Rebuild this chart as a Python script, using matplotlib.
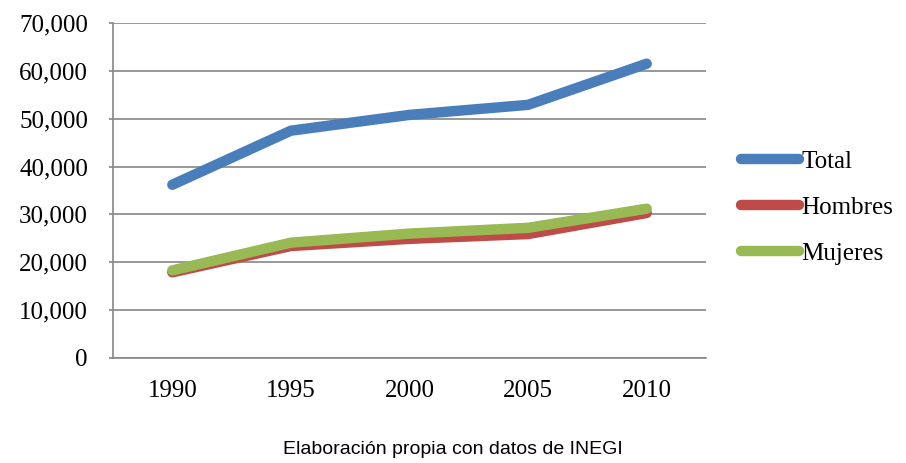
import matplotlib
matplotlib.use("Agg")
import matplotlib.pyplot as plt
from matplotlib.ticker import FuncFormatter

years = ["1990", "1995", "2000", "2005", "2010"]
total = [36200, 47500, 50800, 52900, 61500]
hombres = [17900, 23400, 24900, 25900, 30300]
mujeres = [18300, 24100, 26000, 27200, 31200]
series_names = ["Total", "Hombres", "Mujeres"]
colors = ["#4a7ebb", "#be4b48", "#98b954"]
yticks = [0, 10000, 20000, 30000, 40000, 50000, 60000, 70000]
caption = "Elaboración propia con datos de INEGI"

serif = ["Liberation Serif", "DejaVu Serif"]

fig = plt.figure(figsize=(9.06, 4.63), dpi=100)
ax = fig.add_axes([113/906, 1-358/463, (706-113)/906, (358-23)/463])

x = list(range(len(years)))
for vals, name, c in zip([total, hombres, mujeres], series_names, colors):
    ax.plot(x, vals, color=c, lw=7.5, solid_capstyle="round",
            solid_joinstyle="round", label=name)

ax.set_xlim(-0.5, len(years) - 0.5)
ax.set_ylim(0, 70000)
ax.set_yticks(yticks)
ax.yaxis.set_major_formatter(FuncFormatter(lambda v, p: f"{int(v):,}"))
ax.set_xticks(x)
ax.set_xticklabels(years)
ax.grid(axis="y", color="#868686", lw=1.2)
ax.set_axisbelow(True)
for s in ["top", "right"]:
    ax.spines[s].set_visible(False)
for s in ["left", "bottom"]:
    ax.spines[s].set_color("#868686")
    ax.spines[s].set_linewidth(1.2)
ax.tick_params(axis="y", direction="out", length=3, color="#868686", width=1.2, pad=15)
ax.tick_params(axis="x", length=0, pad=16)
for lab in ax.get_xticklabels() + ax.get_yticklabels():
    lab.set_fontfamily(serif)
    lab.set_fontsize(18)

leg = ax.legend(loc="upper left", bbox_to_anchor=(741/906, 1-150/463),
                bbox_transform=fig.transFigure, frameon=False,
                prop={"family": serif, "size": 18}, handlelength=2.3,
                handletextpad=0.1, labelspacing=0.95, borderaxespad=0,
                borderpad=0)

fig.text(0.5, 1-450/463, caption, ha="center", va="center",
         fontfamily=["Liberation Sans", "DejaVu Sans"], fontsize=14)

fig.savefig("out.png", dpi=100)
